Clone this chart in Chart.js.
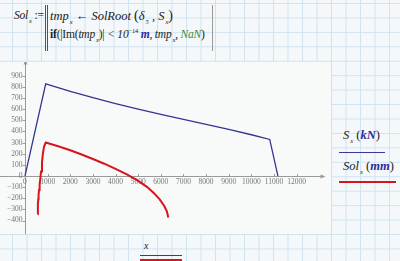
<!DOCTYPE html>
<html>
<head>
<meta charset="utf-8">
<script src="https://cdn.jsdelivr.net/npm/chart.js@4"></script>
<style>
  html, body { margin: 0; padding: 0; }
  body {
    width: 400px; height: 261px; overflow: hidden; position: relative;
    background-color: #f4f8fa;
    background-image:
      linear-gradient(to right, #d0e3ee 1px, transparent 1px),
      linear-gradient(to bottom, #d0e3ee 1px, transparent 1px);
    background-size: 14.5px 14.45px;
    background-position: 12px 3px;
    font-family: "Liberation Serif", "DejaVu Serif", serif;
  }
  .t { position: absolute; white-space: nowrap; font-style: italic; color: #222; font-size: 12.5px; }
  .u { color: #2a2a9a; font-weight: bold; }
  .n { font-style: normal; }
  .sub { font-size: 6.5px; position: relative; top: 4px; margin-left: 1px; }
  #plot { position: absolute; left: 0; top: 62px; width: 331px; height: 172px; background: #f7faf9; }
  .bar { position: absolute; }
</style>
</head>
<body>

<!-- formula region -->
<div class="t" style="left:14px; top:9px; font-size:11.5px; letter-spacing:-0.2px;">Sol<span class="sub">x</span> <span class="n">:=</span></div>
<div class="bar" style="left:45px; top:5px; width:1px; height:46px; background:#555;"></div>
<div class="bar" style="left:47px; top:5px; width:1px; height:46px; background:#555;"></div>
<div class="t" style="left:50px; top:8px;">tmp<span class="sub">x</span> ← SolRoot <span class="n" style="font-size:14px">(</span>δ<span class="sub">5</span> , S<span class="sub">x</span><span class="n" style="font-size:14px">)</span></div>
<div class="t" style="left:50px; top:27px; font-size:11.5px; letter-spacing:-0.2px;"><span class="n" style="font-weight:bold">if</span><span class="n">(|Im(</span>tmp<span class="sub">x</span><span class="n">)|</span> &lt; 10<sup class="n" style="font-size:6.5px">−14</sup> <span class="u">m</span>, tmp<span class="sub">x</span>, <span style="color:#3d8a3d">NaN</span><span class="n">)</span></div>
<div class="bar" style="left:212px; top:5px; width:1px; height:46px; background:#999;"></div>

<div id="plot"><canvas id="c" width="331" height="172"></canvas></div>

<!-- right legend -->
<div class="t" style="left:343px; top:128px;">S<span class="sub">x</span> <span class="n">(</span><span class="u">kN</span><span class="n">)</span></div>
<div class="bar" style="left:339px; top:152px; width:46px; height:1px; background:#3a3a90;"></div>
<div class="t" style="left:343px; top:159px;">Sol<span class="sub">x</span> <span class="n">(</span><span class="u">mm</span><span class="n">)</span></div>
<div class="bar" style="left:339px; top:181px; width:57px; height:2px; background:#d8141e;"></div>

<!-- bottom x label -->
<div class="t" style="left:144px; top:240px; font-size:10px;">x</div>
<div class="bar" style="left:140px; top:255px; width:42px; height:1px; background:#3a3a90;"></div>
<div class="bar" style="left:140px; top:259px; width:42px; height:2px; background:#d8141e;"></div>

<script>
// S_x (kN)
const sX = [0, 915, 2000, 3000, 4000, 5000, 6000, 7000, 8000, 9000, 10000, 10810, 11170];
const sY = [0, 826, 760, 703, 650, 600, 553, 508, 463, 418, 370, 328, 0];

// Sol_x (mm)
const solX = [562, 566, 574, 586, 600, 620, 646, 676, 710, 750, 790, 840, 915, 1500, 2000, 2500, 3000, 3500, 4000, 4500, 5000, 5400, 5700, 5950, 6150, 6270, 6330];
const solY = [-344, -300, -255, -210, -170, -126, -75, -25, 40, 120, 200, 262, 300, 265, 231, 193, 152, 110, 64, 14, -44, -100, -155, -210, -270, -320, -372];

// ticks
const xTicks = [0, 1000, 2000, 3000, 4000, 5000, 6000, 7000, 8000, 9000, 10000, 11000, 12000];
const yTicks = [-400, -300, -200, -100, 0, 100, 200, 300, 400, 500, 600, 700, 800, 900];

const pts = (xs, ys) => xs.map((x, i) => ({ x: x, y: ys[i] }));

// axes through zero, drawn from the chart's own scales
const axesPlugin = {
    id: "axes",
    beforeDatasetsDraw(chart) {
        const { ctx, scales: { x, y } } = chart;
        const x0 = Math.round(x.getPixelForValue(0)) + 0.5, y0 = Math.round(y.getPixelForValue(0)) + 0.5;
        const xEnd = x.getPixelForValue(13100), yTop = y.getPixelForValue(1010);
        ctx.save();
        ctx.strokeStyle = "#9a9a9a";
        ctx.fillStyle = "#9a9a9a";
        ctx.lineWidth = 1;
        ctx.beginPath();
        ctx.moveTo(0, y0); ctx.lineTo(xEnd, y0);
        ctx.moveTo(x0, chart.height); ctx.lineTo(x0, yTop);
        ctx.stroke();
        // arrow heads
        ctx.beginPath();
        ctx.moveTo(xEnd + 4, y0); ctx.lineTo(xEnd - 1, y0 - 2); ctx.lineTo(xEnd - 1, y0 + 2);
        ctx.fill();
        ctx.beginPath();
        ctx.moveTo(x0, yTop - 4); ctx.lineTo(x0 - 2, yTop + 1); ctx.lineTo(x0 + 2, yTop + 1);
        ctx.fill();

        ctx.font = "7.5px 'Liberation Serif', serif";
        ctx.fillStyle = "#777";
        ctx.textBaseline = "middle";
        ctx.beginPath();
        xTicks.forEach(v => {
            const px = Math.round(x.getPixelForValue(v)) + 0.5;
            ctx.moveTo(px, y0 - 2.5); ctx.lineTo(px, y0 + 0.5);
        });
        yTicks.forEach(v => {
            const py = Math.round(y.getPixelForValue(v)) + 0.5;
            ctx.moveTo(x0 - 3, py); ctx.lineTo(x0 + 0.5, py);
        });
        ctx.stroke();
        ctx.textAlign = "center";
        xTicks.forEach(v => ctx.fillText(String(v), x.getPixelForValue(v), y0 + 6));
        ctx.textAlign = "right";
        yTicks.forEach(v => ctx.fillText(String(v).replace("-", "−"), x0 - 3, y.getPixelForValue(v)));
        ctx.restore();
    }
};

new Chart(document.getElementById("c"), {
    type: "scatter",
    data: {
        datasets: [
            { data: pts(sX, sY), showLine: true, borderColor: "#35358f", borderWidth: 1.3, pointRadius: 0, tension: 0 },
            { data: pts(solX, solY), showLine: true, borderColor: "#d8141e", borderWidth: 2, pointRadius: 0, tension: 0 }
        ]
    },
    options: {
        responsive: false,
        animation: false,
        layout: { padding: 0 },
        plugins: { legend: { display: false }, tooltip: { enabled: false } },
        scales: {
            x: { type: "linear", min: -1104, max: 13516, display: false },
            y: { type: "linear", min: -521, max: 1023, display: false }
        }
    },
    plugins: [axesPlugin]
});
</script>
</body>
</html>
